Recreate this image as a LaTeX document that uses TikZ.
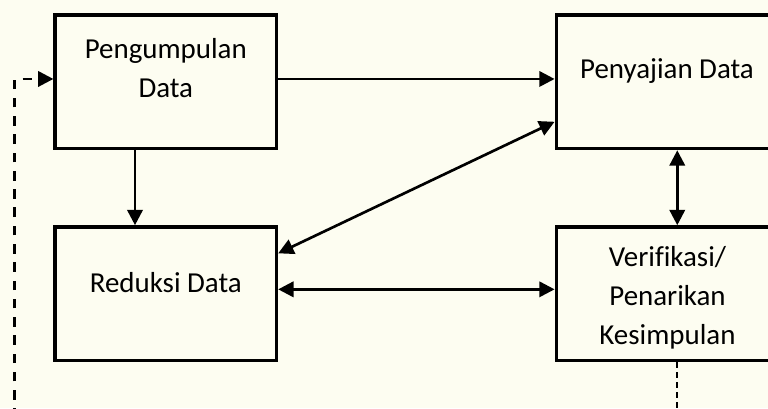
\documentclass[tikz,border=0pt]{standalone}
\usepackage{fontspec}
\setmainfont{Carlito}[Ligatures=NoCommon]
\usetikzlibrary{arrows.meta}
\definecolor{paper}{HTML}{FDFDF1}

\begin{document}
\begin{tikzpicture}[x=0.75pt, y=0.75pt]
\tikzstyle{every node}=[font=\fontsize{21.7}{29.2}\selectfont];
\tikzstyle{box}=[draw, line width=2.6pt, minimum width=166pt, minimum height=100pt, inner sep=0pt];
\tikzstyle{txt}=[align=center, inner sep=0pt, anchor=base];
\tikzstyle{link}=[line width=2pt, -{Triangle[length=11.5pt,width=11.5pt]}];
\tikzstyle{both}=[line width=2pt, {Triangle[length=11.5pt,width=11.5pt]}-{Triangle[length=11.5pt,width=11.5pt]}];
\tikzstyle{loopback}=[line width=2pt, dash pattern=on 7.2pt off 6.5pt];
\tikzstyle{loopdown}=[line width=1.7pt, dash pattern=on 4.5pt off 3pt];
\fill[paper] (0,0) rectangle (768,408);
\useasboundingbox (0,0) rectangle (768,408);
\clip (0,0) rectangle (768,408);
\node[box] (pd) at (165.8, 326.1) {};
\node[box] (pj) at (667, 326.1) {};
\node[box] (rd) at (165.8, 114.4) {};
\node[box] (vk) at (667, 114.4) {};
\node[txt] (pdT) at (165.8, 310.2) {Pengumpulan\\Data};
\node[txt] (pjT) at (667, 329.2) {Penyajian Data};
\node[txt] (rdT) at (165.8, 115.3) {Reduksi Data};
\node[txt] (vkT) at (667.5, 63.5) {Verifikasi/\\Penarikan\\Kesimpulan};
\coordinate (lp) at (14.7, -10);
\coordinate (rp) at ([xshift=7.7pt]vk.south |- 0,-10);
\draw[link] ([yshift=2.2pt]pd.east) -- ([yshift=2.2pt]pj.west);
\draw[link] ([xshift=-23.1pt]pd.south) -- ([xshift=-23.1pt]rd.north);
\draw[both] ([yshift=-29.9pt]pj.west) -- ([yshift=30.2pt]rd.east);
\draw[both] ([yshift=3.2pt]rd.east) -- ([yshift=3.2pt]vk.west);
\draw[both] ([xshift=7.7pt]pj.south) -- ([xshift=7.7pt]vk.north);
\draw[loopdown] ([xshift=7.7pt]vk.south) -- (rp);
\draw[loopback, link] (lp) |- ([yshift=2.2pt]pd.west);
\end{tikzpicture}
\end{document}
